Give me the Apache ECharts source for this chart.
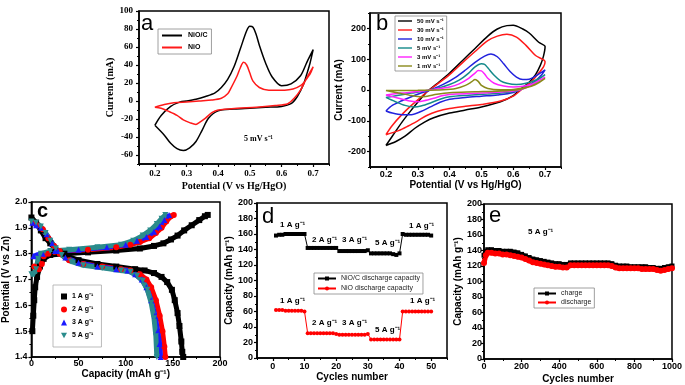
<!DOCTYPE html>
<html>
<head>
<meta charset="utf-8">
<script src="https://cdn.jsdelivr.net/npm/echarts@6/dist/echarts.min.js"></script>
<style>
html,body{margin:0;padding:0;background:#fff;}
#chart{width:685px;height:385px;}
</style>
</head>
<body>
<div id="chart"></div>
<script>
// ---- panel a : CV at 5 mV/s, [potential V, current mA] ----
var cvNiOC = [[0.20,-27],[0.22,-16],[0.25,-6],[0.28,-1],[0.30,0],[0.33,2],[0.36,5],[0.39,9],[0.41,15],[0.43,24],[0.45,38],[0.47,58],[0.49,78],[0.50,83],[0.51,82],[0.52,74],[0.53,62],[0.55,42],[0.57,27],[0.60,17],[0.63,19],[0.66,28],[0.68,43],[0.70,57],
  [0.69,42],[0.68,30],[0.67,19],[0.65,5],[0.63,-3],[0.60,-6],[0.55,-7],[0.50,-8],[0.45,-9],[0.40,-11],[0.37,-19],[0.35,-32],[0.33,-45],[0.31,-52],[0.29,-55],[0.27,-53],[0.25,-47],[0.23,-38],[0.20,-27]];
var cvNiO = [[0.20,-7],[0.23,-4],[0.26,-2],[0.30,-1],[0.34,0],[0.38,1],[0.41,3],[0.43,8],[0.44,14],[0.46,28],[0.47,37],[0.48,43],[0.49,40],[0.50,31],[0.51,22],[0.53,15],[0.56,12],[0.61,12],[0.66,17],[0.69,30],[0.70,38],
  [0.68,26],[0.66,12],[0.64,3],[0.62,-3],[0.58,-5],[0.52,-7],[0.46,-8],[0.40,-10],[0.38,-13],[0.36,-19],[0.34,-24],[0.33,-26],[0.31,-24],[0.29,-21],[0.27,-16],[0.24,-11],[0.22,-8],[0.20,-7]];

// ---- panel b : CV at several scan rates ----
var cv50 = [[0.20,-180],[0.22,-150],[0.25,-105],[0.28,-65],[0.30,-40],[0.33,-5],[0.36,20],[0.40,55],[0.44,95],[0.48,135],[0.52,175],[0.55,198],[0.58,209],[0.60,210],[0.63,198],[0.65,185],[0.68,155],[0.70,141],
  [0.695,110],[0.685,80],[0.67,50],[0.65,25],[0.62,0],[0.60,-18],[0.56,-38],[0.50,-55],[0.45,-65],[0.40,-75],[0.35,-90],[0.32,-105],[0.29,-125],[0.26,-150],[0.23,-168],[0.20,-180]];
var cv30 = [[0.20,-145],[0.22,-115],[0.25,-80],[0.28,-50],[0.30,-32],[0.33,-5],[0.36,18],[0.40,50],[0.44,88],[0.48,125],[0.52,160],[0.55,175],[0.58,181],[0.61,172],[0.64,145],[0.67,112],[0.70,92],
  [0.695,75],[0.68,55],[0.66,30],[0.63,5],[0.60,-20],[0.56,-36],[0.50,-47],[0.45,-53],[0.40,-60],[0.36,-70],[0.33,-82],[0.30,-100],[0.27,-117],[0.24,-132],[0.20,-145]];
var cv10 = [[0.20,-68],[0.22,-50],[0.25,-35],[0.28,-22],[0.31,-10],[0.34,0],[0.38,18],[0.42,42],[0.45,65],[0.48,90],[0.51,110],[0.53,117],[0.55,108],[0.57,85],[0.59,60],[0.61,42],[0.63,34],[0.65,35],[0.67,45],[0.70,65],
  [0.69,50],[0.67,30],[0.64,10],[0.60,-8],[0.55,-16],[0.50,-20],[0.45,-24],[0.40,-30],[0.37,-40],[0.34,-55],[0.31,-70],[0.28,-80],[0.25,-80],[0.22,-75],[0.20,-68]];
var cv5 = [[0.20,-24],[0.24,-17],[0.28,-10],[0.32,-3],[0.36,5],[0.40,18],[0.43,32],[0.46,55],[0.48,75],[0.50,85],[0.51,83],[0.52,72],[0.54,48],[0.56,30],[0.58,22],[0.61,18],[0.64,22],[0.67,32],[0.70,50],
  [0.68,35],[0.65,15],[0.62,0],[0.58,-8],[0.52,-13],[0.46,-17],[0.40,-22],[0.37,-30],[0.34,-42],[0.31,-52],[0.29,-55],[0.26,-50],[0.23,-38],[0.20,-24]];
var cv3 = [[0.20,-16],[0.25,-10],[0.30,-5],[0.35,2],[0.40,10],[0.43,20],[0.46,38],[0.48,55],[0.49,63],[0.50,62],[0.51,52],[0.52,38],[0.54,22],[0.57,13],[0.60,10],[0.63,12],[0.66,20],[0.70,42],
  [0.68,30],[0.65,12],[0.62,0],[0.58,-5],[0.50,-10],[0.42,-13],[0.38,-18],[0.35,-27],[0.32,-35],[0.30,-38],[0.27,-35],[0.24,-27],[0.20,-16]];
var cv1 = [[0.20,-2],[0.30,-1],[0.38,1],[0.42,5],[0.45,15],[0.47,27],[0.48,34],[0.49,28],[0.50,15],[0.52,5],[0.56,1],[0.60,2],[0.64,8],[0.67,18],[0.70,38],
  [0.68,25],[0.65,10],[0.62,2],[0.56,-3],[0.48,-6],[0.40,-9],[0.36,-14],[0.33,-20],[0.31,-22],[0.28,-18],[0.24,-10],[0.20,-2]];

// ---- panel c : charge / discharge profiles, [capacity mAh/g, V vs Zn] ----
var chg1 = [[1,1.50],[2,1.56],[3,1.62],[4,1.67],[6,1.71],[9,1.75],[13,1.78],[20,1.795],[35,1.80],[60,1.805],[90,1.812],[115,1.82],[130,1.83],[140,1.84],[148,1.855],[155,1.87],[162,1.89],[170,1.91],[178,1.93],[184,1.945],[187,1.95]];
var dis1 = [[0,1.94],[5,1.92],[10,1.89],[15,1.86],[20,1.84],[25,1.82],[30,1.805],[38,1.79],[50,1.775],[70,1.76],[90,1.75],[110,1.74],[120,1.735],[130,1.725],[138,1.71],[144,1.69],[149,1.66],[152,1.62],[155,1.57],[157,1.52],[159,1.46],[160,1.42],[161,1.40]];
var chg2 = [[3,1.75],[8,1.74],[11,1.76],[13,1.79],[18,1.80],[30,1.81],[60,1.815],[90,1.825],[105,1.835],[115,1.845],[125,1.86],[132,1.88],[138,1.90],[143,1.925],[148,1.945],[151,1.95]];
var dis2 = [[2,1.92],[6,1.91],[12,1.895],[18,1.86],[24,1.83],[30,1.80],[40,1.775],[55,1.76],[75,1.75],[95,1.74],[105,1.735],[115,1.72],[122,1.70],[127,1.67],[132,1.62],[136,1.56],[139,1.50],[141,1.44],[142,1.40]];
var chg3 = [[2,1.79],[6,1.795],[12,1.80],[25,1.81],[50,1.815],[80,1.825],[100,1.835],[112,1.85],[122,1.865],[130,1.885],[136,1.905],[141,1.93],[146,1.95]];
var dis3 = [[1,1.92],[5,1.91],[10,1.90],[16,1.875],[22,1.84],[28,1.81],[36,1.785],[50,1.765],[70,1.75],[90,1.74],[102,1.735],[110,1.72],[117,1.70],[122,1.67],[127,1.62],[131,1.56],[134,1.50],[136,1.45],[137,1.40]];
var chg5 = [[0,1.72],[3,1.72],[5,1.74],[7,1.78],[10,1.80],[20,1.81],[40,1.815],[70,1.825],[95,1.835],[108,1.85],[118,1.87],[126,1.89],[133,1.915],[138,1.935],[142,1.95]];
var dis5 = [[0,1.925],[5,1.92],[10,1.905],[15,1.88],[20,1.85],[26,1.82],[32,1.795],[42,1.77],[55,1.755],[75,1.745],[95,1.735],[105,1.73],[112,1.715],[118,1.695],[123,1.66],[127,1.61],[130,1.55],[132,1.48],[133,1.40]];

// ---- panel d : rate capability ----
var cyclesD = [1,2,3,4,5,6,7,8,9,10,11,12,13,14,15,16,17,18,19,20,21,22,23,24,25,26,27,28,29,30,31,32,33,34,35,36,37,38,39,40,41,42,43,44,45,46,47,48,49,50];
var niocCap = [158,159,159,160,160,160,160,160,160,160, 142,142,142,142,142,142,142,142,142,142, 138,138,138,138,138,138,138,138,138,139, 135,135,135,135,135,135,135,134,133,135, 160,159,159,159,159,159,159,159,159,158];
var nioCap = [62,62,62,61,61,61,61,61,61,60, 32,32,32,32,32,32,32,32,32,31, 30,30,30,30,30,30,30,30,30,31, 24,24,24,24,24,24,24,24,24,24, 60,60,60,60,60,60,60,60,60,60];

// ---- panel e : cycling at 5 A/g ----
var cyclesE = [0,10,20,40,60,80,100,120,140,160,180,200,220,240,260,280,300,320,340,360,380,400,420,440,460,480,500,520,540,560,580,600,620,640,660,680,700,720,740,760,780,800,820,840,860,880,900,920,940,960,980,1000];
var chargeE = [134,139,141,141,140,140,139,139,139,138,137,135,133,131,129,128,127,126,125,124,123,123,122,122,124,124,124,124,124,124,124,124,124,124,124,123,121,120,120,120,119,119,119,119,119,118,118,117,117,118,119,120];
var dischargeE = [124,134,137,137,136,136,135,135,134,133,132,131,129,127,125,124,123,122,121,120,119,119,118,118,121,121,121,121,121,121,121,121,121,121,121,120,118,117,117,117,117,117,117,116,116,116,116,115,114,115,116,117];

var sans = 'Liberation Sans, Arial, sans-serif';
var serif = 'Liberation Serif, Times New Roman, serif';
var lineIcon = 'path://M0,0L20,0L20,2L0,2Z';
var downTri = 'path://M0,0L10,0L5,9Z';

function pair(xs, ys) { return ys.map(function (v, i) { return [xs[i], v]; }); }

function axis(grid, min, max, ticks, digits, font, name, gap, margin) {
  return {
    type: 'value', gridIndex: grid, min: min, max: max,
    axisLine: { show: true, onZero: false, lineStyle: { color: '#000', width: 1.5 } },
    axisTick: { show: true, length: 3, customValues: ticks, lineStyle: { color: '#000', width: 1.2 } },
    axisLabel: { customValues: ticks, margin: margin, fontFamily: font, fontWeight: 'bold', fontSize: 9, color: '#000',
      formatter: function (v) { return v.toFixed(digits); } },
    splitLine: { show: false },
    name: name, nameLocation: 'middle', nameGap: gap,
    nameTextStyle: { fontFamily: font, fontWeight: 'bold', fontSize: 10, color: '#000' }
  };
}

// second axis on the same side, only short minor ticks
function minor(grid, min, max, ticks, pos) {
  return {
    type: 'value', gridIndex: grid, min: min, max: max, position: pos, offset: 0,
    axisLine: { show: false, onZero: false },
    axisTick: { show: true, length: 2, customValues: ticks, lineStyle: { color: '#000', width: 1 } },
    axisLabel: { show: false }, splitLine: { show: false }
  };
}

function grid(l, t, w, h) {
  return { left: l, top: t, width: w, height: h, show: true, borderColor: '#000', borderWidth: 1.5 };
}

function cvLine(name, data, color, xi) {
  return { name: name, type: 'line', xAxisIndex: xi, yAxisIndex: xi, data: data, symbol: 'none', smooth: 0.3,
    lineStyle: { color: color, width: 1.5 }, itemStyle: { color: color } };
}

function gcLine(name, data, color, sym) {
  return { name: name, type: 'line', xAxisIndex: 2, yAxisIndex: 2, data: data, symbol: sym, symbolSize: 6,
    lineStyle: { color: color, width: 5 }, itemStyle: { color: color } };
}

function label(text, x, y, size, font, weight) {
  return { type: 'text', left: x, top: y, style: { text: text, fill: '#000', font: (weight || 'normal') + ' ' + size + 'px ' + font } };
}

var chart = echarts.init(document.getElementById('chart'));
chart.setOption({
  animation: false,
  backgroundColor: '#fff',
  grid: [grid(139, 11, 190, 153), grid(370, 13, 191, 154), grid(30, 202, 190, 155), grid(257, 203, 190, 155), grid(484, 204, 191, 155)],
  xAxis: [
    axis(0, 0.15, 0.75, [0.2, 0.3, 0.4, 0.5, 0.6, 0.7], 1, serif, 'Potential (V vs Hg/HgO)', 17, 5),
    axis(1, 0.15, 0.75, [0.2, 0.3, 0.4, 0.5, 0.6, 0.7], 1, sans, 'Potential (V vs Hg/HgO)', 13, 3),
    axis(2, 0, 200, [0, 50, 100, 150, 200], 0, sans, 'Capacity (mAh g⁻¹)', 11, 2),
    axis(3, -5, 55, [0, 10, 20, 30, 40, 50], 0, sans, 'Cycles number', 12, 4),
    axis(4, 0, 1000, [0, 200, 400, 600, 800, 1000], 0, sans, 'Cycles number', 15, 3),
    minor(0, 0.15, 0.75, [0.15, 0.25, 0.35, 0.45, 0.55, 0.65, 0.75], 'bottom'),
    minor(1, 0.15, 0.75, [0.15, 0.25, 0.35, 0.45, 0.55, 0.65, 0.75], 'bottom'),
    minor(2, 0, 200, [25, 75, 125, 175], 'bottom'),
    minor(3, -5, 55, [-5, 5, 15, 25, 35, 45, 55], 'bottom'),
    minor(4, 0, 1000, [100, 300, 500, 700, 900], 'bottom')
  ],
  yAxis: [
    axis(0, -70, 100, [-60, -40, -20, 0, 20, 40, 60, 80, 100], 0, serif, 'Current (mA)', 17, 6),
    axis(1, -250, 250, [-200, -100, 0, 100, 200], 0, sans, 'Current (mA)', 20, 4),
    axis(2, 1.4, 2.0, [1.4, 1.5, 1.6, 1.7, 1.8, 1.9, 2.0], 1, sans, 'Potential (V vs Zn)', 20, 4),
    axis(3, 0, 200, [0, 20, 40, 60, 80, 100, 120, 140, 160, 180, 200], 0, sans, 'Capacity (mAh g⁻¹)', 23, 4),
    axis(4, 0, 200, [0, 20, 40, 60, 80, 100, 120, 140, 160, 180, 200], 0, sans, 'Capacity (mAh g⁻¹)', 19, 2),
    minor(0, -70, 100, [-70, -50, -30, -10, 10, 30, 50, 70, 90], 'left'),
    minor(1, -250, 250, [-250, -150, -50, 50, 150, 250], 'left'),
    minor(2, 1.4, 2.0, [1.45, 1.55, 1.65, 1.75, 1.85, 1.95], 'left'),
    minor(3, 0, 200, [10, 30, 50, 70, 90, 110, 130, 150, 170, 190], 'left'),
    minor(4, 0, 200, [10, 30, 50, 70, 90, 110, 130, 150, 170, 190], 'left')
  ],
  legend: [
    { left: 158, top: 29, orient: 'vertical', itemWidth: 22, itemHeight: 2, itemGap: 5,
      data: [{ name: 'NiO/C', icon: lineIcon }, { name: 'NiO', icon: lineIcon }],
      borderColor: '#888', borderWidth: 0.8, padding: [3, 4],
      textStyle: { fontFamily: sans, fontWeight: 'bold', fontSize: 7, color: '#000' } },
    { left: 395, top: 16, orient: 'vertical', itemWidth: 14, itemHeight: 2, itemGap: 3,
      data: ['50 mV s⁻¹', '30 mV s⁻¹', '10 mV s⁻¹', '5 mV s⁻¹', '3 mV s⁻¹', '1 mV s⁻¹'].map(function (n) { return { name: n, icon: lineIcon }; }),
      borderColor: '#888', borderWidth: 0.8, padding: [2, 3],
      textStyle: { fontFamily: sans, fontWeight: 'bold', fontSize: 6, color: '#000' } },
    { left: 53, top: 285, orient: 'vertical', itemWidth: 6, itemHeight: 6, itemGap: 6, borderColor: '#aaa', borderWidth: 0.8, padding: [8, 8],
      data: [{ name: '1 A g⁻¹', icon: 'rect' }, { name: '2 A g⁻¹', icon: 'circle' }, { name: '3 A g⁻¹', icon: 'triangle' }, { name: '5 A g⁻¹', icon: downTri }],
      textStyle: { fontFamily: sans, fontWeight: 'bold', fontSize: 7, color: '#000' } },
    { left: 314, top: 273, orient: 'vertical', data: ['NiO/C discharge capacity', 'NiO discharge capacity'], itemWidth: 18, itemHeight: 5, itemGap: 3,
      borderColor: '#888', borderWidth: 0.8, padding: [2, 3],
      textStyle: { fontFamily: sans, fontSize: 7, color: '#222' } },
    { left: 534, top: 288, orient: 'vertical', data: ['charge', 'discharge'], itemWidth: 18, itemHeight: 5, itemGap: 2,
      borderColor: '#888', borderWidth: 0.8, padding: [2, 3],
      textStyle: { fontFamily: sans, fontSize: 7, color: '#222' } }
  ],
  graphic: [
    label('a', 141, 13, 22, sans),
    label('b', 376, 13, 22, sans),
    label('c', 37, 201, 20, sans, 'bold'),
    label('d', 262, 206, 22, sans),
    label('e', 489, 205, 22, sans),
    label('5 mV s⁻¹', 244, 135, 8, serif, 'bold'),
    label('5 A g⁻¹', 528, 228, 8, sans, 'bold'),
    label('1 A g⁻¹', 280, 221, 8, sans, 'bold'),
    label('2 A g⁻¹', 312, 236, 8, sans, 'bold'),
    label('3 A g⁻¹', 342, 236, 8, sans, 'bold'),
    label('5 A g⁻¹', 375, 239, 8, sans, 'bold'),
    label('1 A g⁻¹', 409, 222, 8, sans, 'bold'),
    label('1 A g⁻¹', 280, 297, 8, sans, 'bold'),
    label('2 A g⁻¹', 312, 319, 8, sans, 'bold'),
    label('3 A g⁻¹', 342, 319, 8, sans, 'bold'),
    label('5 A g⁻¹', 375, 326, 8, sans, 'bold'),
    label('1 A g⁻¹', 410, 297, 8, sans, 'bold')
  ],
  series: [
    cvLine('NiO/C', cvNiOC, '#000000', 0),
    cvLine('NiO', cvNiO, '#ff1a1a', 0),
    cvLine('50 mV s⁻¹', cv50, '#000000', 1),
    cvLine('30 mV s⁻¹', cv30, '#ff1a1a', 1),
    cvLine('10 mV s⁻¹', cv10, '#2222dd', 1),
    cvLine('5 mV s⁻¹', cv5, '#148a8a', 1),
    cvLine('3 mV s⁻¹', cv3, '#ff22ff', 1),
    cvLine('1 mV s⁻¹', cv1, '#8a8a1a', 1),
    gcLine('1 A g⁻¹', chg1, '#000000', 'rect'),
    gcLine('1 A g⁻¹', dis1, '#000000', 'rect'),
    gcLine('2 A g⁻¹', chg2, '#ff0000', 'circle'),
    gcLine('2 A g⁻¹', dis2, '#ff0000', 'circle'),
    gcLine('3 A g⁻¹', chg3, '#1a1aff', 'triangle'),
    gcLine('3 A g⁻¹', dis3, '#1a1aff', 'triangle'),
    gcLine('5 A g⁻¹', chg5, '#2a8c8c', downTri),
    gcLine('5 A g⁻¹', dis5, '#2a8c8c', downTri),
    { name: 'NiO/C discharge capacity', type: 'line', xAxisIndex: 3, yAxisIndex: 3, data: pair(cyclesD, niocCap),
      symbol: 'rect', symbolSize: 4, lineStyle: { color: '#000', width: 1 }, itemStyle: { color: '#000' } },
    { name: 'NiO discharge capacity', type: 'line', xAxisIndex: 3, yAxisIndex: 3, data: pair(cyclesD, nioCap),
      symbol: 'circle', symbolSize: 4, lineStyle: { color: '#ff0000', width: 1 }, itemStyle: { color: '#ff0000' } },
    { name: 'charge', type: 'line', xAxisIndex: 4, yAxisIndex: 4, data: pair(cyclesE, chargeE),
      symbol: 'rect', symbolSize: 5, lineStyle: { color: '#000', width: 4 }, itemStyle: { color: '#000' } },
    { name: 'discharge', type: 'line', xAxisIndex: 4, yAxisIndex: 4, data: pair(cyclesE, dischargeE),
      symbol: 'circle', symbolSize: 6, lineStyle: { color: '#ff0000', width: 5 }, itemStyle: { color: '#ff0000' } }
  ]
});
</script>
</body>
</html>
